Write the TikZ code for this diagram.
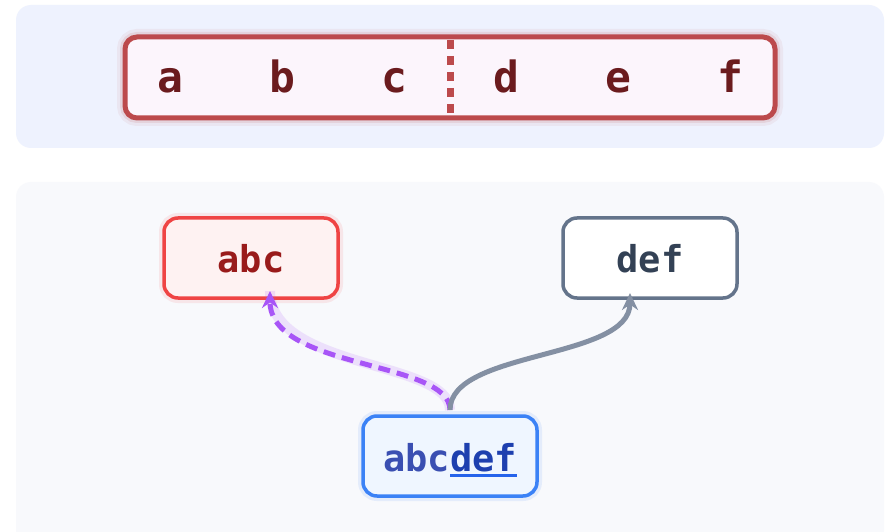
\documentclass[tikz,border=0pt]{standalone}
\usepackage{fontspec}
\setmonofont{DejaVu Sans Mono}
\definecolor{toppanel}{HTML}{EEF2FE}
\definecolor{botpanel}{HTML}{F8F9FC}
\definecolor{barred}{HTML}{BC4A4C}
\definecolor{barfill}{HTML}{FCF5FC}
\definecolor{bartext}{HTML}{6B1B1E}
\definecolor{abcred}{HTML}{EF4444}
\definecolor{abcfill}{HTML}{FEF2F2}
\definecolor{abctext}{HTML}{991B1B}
\definecolor{defgray}{HTML}{64748B}
\definecolor{deftext}{HTML}{334155}
\definecolor{srcblue}{HTML}{3B82F6}
\definecolor{srcfill}{HTML}{EFF6FF}
\definecolor{srcabc}{HTML}{3A4FB2}
\definecolor{srcdef}{HTML}{1E40AF}
\definecolor{ulblue}{HTML}{2563EB}
\definecolor{purp}{HTML}{A855F7}
\definecolor{arrgray}{HTML}{8490A3}
\newcommand\myul[1]{\setbox0\hbox{#1}\rlap{\color{ulblue}\rule[-6pt]{\wd0}{3pt}}\box0}
\usetikzlibrary{arrows.meta}
\tikzset{
  panel/.style={rounded corners=15pt},
  glowred/.style={preaction={draw=barred,opacity=0.07,line width=16pt},
                  preaction={draw=barred,opacity=0.12,line width=10pt}},
  word/.style={font=\ttfamily\bfseries\fontsize{37}{40}\selectfont, inner sep=0pt, anchor=base},
  letter/.style={font=\ttfamily\bfseries\fontsize{43}{46}\selectfont, text=bartext, inner sep=0pt, anchor=base},
  wbox/.style={rounded corners=14pt, line width=3.5pt, minimum width=174pt, minimum height=80pt, inner sep=0pt},
  tip/.style={-{Stealth[length=17pt,width=16pt]}},
}
\begin{document}
\begin{tikzpicture}[x=1pt,y=-1pt]
\useasboundingbox (0,0) rectangle (887,532);
\fill[white] (0,0) rectangle (887,532);
% panels
\fill[toppanel,panel] (16,5) rectangle (884,148);
\fill[botpanel,panel] (16,182) rectangle (884,545);
% top bar
\draw[barred,fill=barfill,line width=5pt,rounded corners=12pt,glowred] (125,37) rectangle (775,118);
\coordinate (divtop) at (450,40);
\coordinate (divbot) at (450,115);
\draw[barred,line width=7pt,dash pattern=on 9pt off 7pt] (divtop) -- (divbot);
\node[letter] (la) at (170,93) {a};
\node[letter] (lb) at (282,93) {b};
\node[letter] (lc) at (394,93) {c};
\node[letter] (ld) at (506,93) {d};
\node[letter] (le) at (618,93) {e};
\node[letter] (lf) at (730,93) {f};
% word boxes
\node[wbox,draw=abcred,fill=abcfill,
      preaction={draw=abcred,opacity=0.1,line width=10pt}] (abc) at (251,258) {};
\node[word,text=abctext] (abct) at (251,272) {abc};
\node[wbox,draw=defgray,fill=white] (def) at (650,258) {};
\node[word,text=deftext] (deft) at (650,272) {def};
\node[wbox,draw=srcblue,fill=srcfill,
      preaction={draw=srcblue,opacity=0.1,line width=10pt}] (src) at (450,456) {};
\node[word] (srct) at (450,471) {\textcolor{srcabc}{abc}\myul{\textcolor{srcdef}{def}}};
% connectors
\coordinate (start) at (450,410);
\coordinate (abcend) at (270,291);
\coordinate (defend) at (630,293);
\draw[purp,opacity=0.15,line width=10pt] (start) .. controls (450,360) and (270,370) .. (abcend);
\draw[purp,line width=5pt,dash pattern=on 12pt off 7pt,tip]
  (start) .. controls (450,360) and (270,370) .. (abcend);
\draw[arrgray,line width=5pt,tip]
  (start) .. controls (450,350) and (630,360) .. (defend);
\end{tikzpicture}
\end{document}
